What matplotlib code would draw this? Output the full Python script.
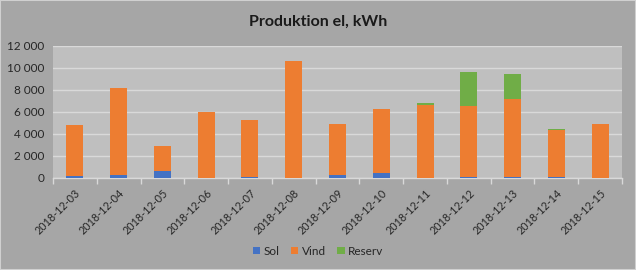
import matplotlib
matplotlib.use("Agg")
import matplotlib.pyplot as plt
import numpy as np
from matplotlib.ticker import FuncFormatter, FixedLocator

dates = ["2018-12-03", "2018-12-04", "2018-12-05", "2018-12-06", "2018-12-07",
         "2018-12-08", "2018-12-09", "2018-12-10", "2018-12-11", "2018-12-12",
         "2018-12-13", "2018-12-14", "2018-12-15"]
sol = [130, 250, 640, 20, 100, 10, 300, 490, 20, 100, 100, 100, 10]
vind = [4670, 7930, 2260, 5950, 5150, 10590, 4580, 5760, 6650, 6420, 7050, 4260, 4870]
reserv = [0, 0, 0, 0, 0, 0, 0, 0, 100, 3120, 2300, 100, 0]

plt.rcParams['font.family'] = ['Lato', 'DejaVu Sans']

bg = "#a6a6a6"
fig = plt.figure(figsize=(6.36, 2.70), dpi=100, facecolor=bg)
fig.patches.append(plt.Rectangle((0, 0), 1, 1, transform=fig.transFigure,
                                 fill=False, edgecolor="#d0d0d0", linewidth=1.5))
ax = fig.add_axes([0.0833, 0.341, 0.8947, 0.489])
ax.set_facecolor("#bfbfbf")

x = np.arange(len(dates))
w = 0.39
sol_a = np.array(sol)
vind_a = np.array(vind)
res_a = np.array(reserv)
ax.bar(x, sol_a, w, color="#4472C4", label="Sol", zorder=3)
ax.bar(x, vind_a, w, bottom=sol_a, color="#ED7D31", label="Vind", zorder=3)
ax.bar(x, res_a, w, bottom=sol_a + vind_a, color="#70AD47", label="Reserv", zorder=3)

ax.set_xlim(-0.5, len(dates) - 0.5)
ax.set_ylim(0, 12000)
ax.set_yticks(np.arange(0, 12001, 2000))
ax.yaxis.set_major_formatter(FuncFormatter(lambda v, p: f"{int(v):,}".replace(",", " ")))
ax.grid(axis="y", color="#d9d9d9", linewidth=1, zorder=0)
for s in ["top", "right", "left"]:
    ax.spines[s].set_visible(False)
ax.spines["bottom"].set_color("#d9d9d9")
ax.spines["bottom"].set_linewidth(1)

ax.set_xticks(x)
ax.set_xticklabels(dates, rotation=45, ha="right", rotation_mode="anchor", fontsize=7.8, color="#262626")
ax.tick_params(axis="x", which="major", length=0, pad=7)
ax.xaxis.set_minor_locator(FixedLocator(np.arange(-0.5, len(dates), 1.0)))
ax.tick_params(axis="x", which="minor", length=4, color="#d9d9d9", width=1)
ax.tick_params(axis="y", length=0, labelsize=8.5, labelcolor="#262626", pad=6)

fig.text(0.5, 0.918, "Produktion el, kWh", ha="center", va="center",
         fontsize=11.5, fontweight="bold", color="#1a1a1a")

fig.legend(loc="center", bbox_to_anchor=(0.5, 0.07), ncol=3, frameon=False,
           fontsize=8.5, handlelength=0.6, handleheight=0.6, handletextpad=0.3,
           columnspacing=1.0, labelcolor="#262626")

fig.savefig("out.png", dpi=100, facecolor=bg)
